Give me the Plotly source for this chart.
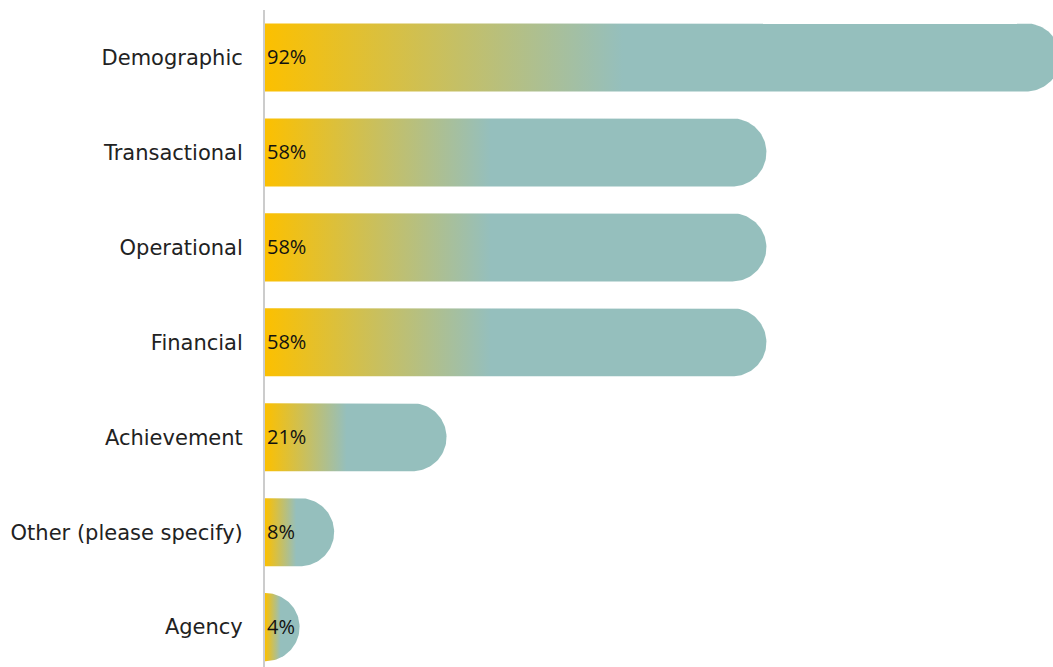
import numpy as np
import plotly.graph_objects as go

# Survey results: share of respondents per data type
categories = ["Demographic", "Transactional", "Operational", "Financial",
              "Achievement", "Other (please specify)", "Agency"]
values = [92, 58, 58, 58, 21, 8, 4]
value_labels = ["92%", "58%", "58%", "58%", "21%", "8%", "4%"]

W, H = 1053, 667
M_L, M_R, M_T, M_B = 265, 0, 10, 0
X_MAX = 91.15
Y_RANGE = [6.42, -0.5]
BAR_H = 0.717          # bar thickness in category units

YELLOW = "#FCC000"
TEAL = "#95BFBD"
LABEL_FONT = "DejaVu Sans, sans-serif"
VALUE_FONT = "Open Sans, sans-serif"

plot_w = W - M_L - M_R
plot_h = H - M_T - M_B
px_per_x = plot_w / X_MAX
px_per_y = plot_h / abs(Y_RANGE[0] - Y_RANGE[1])

fig = go.Figure()

half = BAR_H / 2
r_px = half * px_per_y          # cap radius in pixels
r_x = r_px / px_per_x           # cap radius in x data units

for i, (cat, v) in enumerate(zip(categories, values)):
    cx = max(v - r_x, 0)
    theta = np.linspace(-np.pi / 2, np.pi / 2, 60)
    arc_x = cx + r_x * np.cos(theta)
    arc_y = i + half * np.sin(theta)
    xs = [0, cx] + list(arc_x) + [cx, 0, 0]
    ys = [i - half, i - half] + list(arc_y) + [i + half, i + half, i - half]
    fig.add_trace(go.Scatter(
        x=xs, y=ys, mode="lines", fill="toself",
        line=dict(width=0, color=TEAL),
        fillgradient=dict(type="horizontal", start=0, stop=v,
                          colorscale=[[0, YELLOW], [0.45, TEAL], [1, TEAL]]),
        hoverinfo="skip", showlegend=False,
    ))
    fig.add_annotation(x=0, y=i, text=value_labels[i], showarrow=False,
                       xanchor="left", yanchor="middle", xshift=0, yshift=1,
                       font=dict(size=20, color="#111111", family=VALUE_FONT))

fig.update_layout(
    width=W, height=H,
    margin=dict(l=M_L, r=M_R, t=M_T, b=M_B, pad=0),
    paper_bgcolor="white", plot_bgcolor="white",
    font=dict(family=LABEL_FONT, size=21, color="#222222"),
    xaxis=dict(range=[0, X_MAX], visible=False, fixedrange=True),
    yaxis=dict(range=Y_RANGE, tickmode="array",
               tickvals=list(range(len(categories))), ticktext=categories,
               showgrid=False, zeroline=False, showline=True,
               linecolor="#cccccc", linewidth=2, ticks="",
               ticklabelstandoff=16, fixedrange=True),
)

fig.write_html("out.html")
